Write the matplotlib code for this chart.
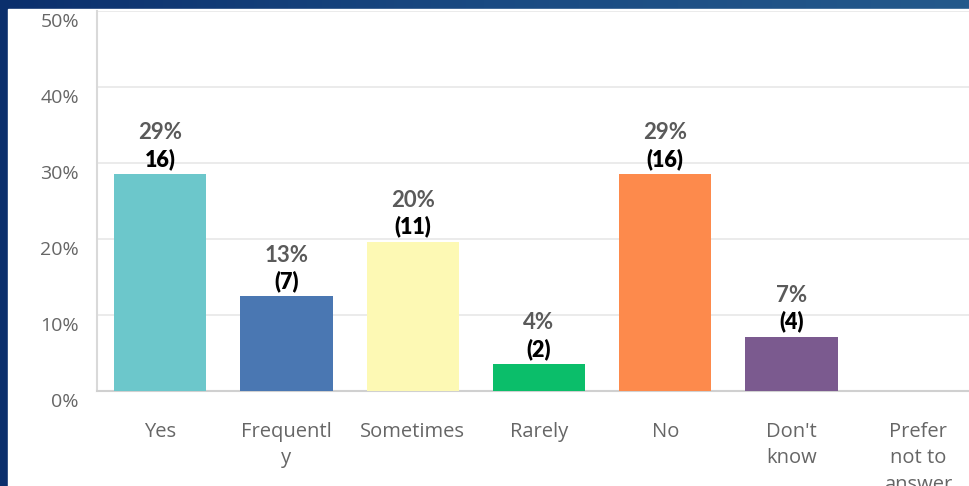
import numpy as np
import matplotlib
matplotlib.use("Agg")
import matplotlib.pyplot as plt
import matplotlib.transforms as mtransforms
from matplotlib.patches import Rectangle
from matplotlib.colors import LinearSegmentedColormap

categories = ["Yes", "Frequentl\ny", "Sometimes", "Rarely", "No", "Don't\nknow", "Prefer\nnot to\nanswer"]
counts = [16, 7, 11, 2, 16, 4, 0]
pct_labels = ["29%", "13%", "20%", "4%", "29%", "7%", ""]
count_labels = ["16)", "(7)", "(11)", "(2)", "(16)", "(4)", ""]
colors = ["#6cc7cb", "#4a77b2", "#fdf9b4", "#0bbe6a", "#fd8a4c", "#7b5a8f", "#cccccc"]
yticks = [0, 10, 20, 30, 40, 50]

total = sum(counts)
values = [100 * c / total for c in counts]

fig = plt.figure(figsize=(9.69, 4.86), dpi=100)
fig.patch.set_facecolor("#0c316e")

# blue frame with a soft gradient, then the white slide area
bg = fig.add_axes([0, 0, 1, 1], zorder=-2)
grad = np.linspace(0, 1, 256).reshape(1, -1)
cmap = LinearSegmentedColormap.from_list("frame", ["#0b2f6c", "#1a4a82", "#24598b"])
bg.imshow(grad, aspect="auto", cmap=cmap, extent=[0, 1, 0, 1])
bg.add_patch(Rectangle((8 / 969, 0), 1, (486 - 9) / 486, color="white"))
bg.set_xlim(0, 1)
bg.set_ylim(0, 1)
bg.axis("off")

ax = fig.add_axes([97 / 969, 95 / 486, 884 / 969, 380 / 486])
ax.set_facecolor("none")
x = np.arange(len(categories))
ax.bar(x, values, width=0.73, color=colors, zorder=3)

ax.set_xlim(-0.5, len(categories) - 0.5)
ax.set_ylim(0, 50)
ax.set_yticks(yticks)
ax.set_yticklabels([f"{t}%" for t in yticks], fontsize=14, color="#666666", family="Open Sans")
ax.set_xticks(x)
ax.set_xticklabels(categories, fontsize=14.5, color="#666666", family="Open Sans",
                   va="top", ha="center", linespacing=1.45)
ax.tick_params(axis="y", length=0, pad=13)
ax.tick_params(axis="x", length=0, pad=22)
# y labels sit a little below their grid lines in the original
shift = mtransforms.ScaledTranslation(0, -9 / 100, fig.dpi_scale_trans)
for lab in ax.get_yticklabels():
    lab.set_transform(lab.get_transform() + shift)
ax.grid(axis="y", color="#e8e8e8", linewidth=1.2, zorder=0)

for s in ["top", "right"]:
    ax.spines[s].set_visible(False)
ax.spines["left"].set_color("#d9d9d9")
ax.spines["left"].set_linewidth(1.5)
ax.spines["bottom"].set_color("#d0d0d0")
ax.spines["bottom"].set_linewidth(1.5)

for xi, v, p, c in zip(x, values, pct_labels, count_labels):
    if not p:
        continue
    ax.annotate(p, (xi, v), xytext=(0, 41), textcoords="offset pixels", ha="center", va="center",
                fontsize=16, color="#5a5a5a", family="Lato", fontweight="bold")
    ax.annotate(c, (xi, v), xytext=(0, 15), textcoords="offset pixels", ha="center", va="center",
                fontsize=15.5, color="black", family="Lato", fontweight="heavy")

fig.savefig("out.png", dpi=100, facecolor=fig.get_facecolor())
